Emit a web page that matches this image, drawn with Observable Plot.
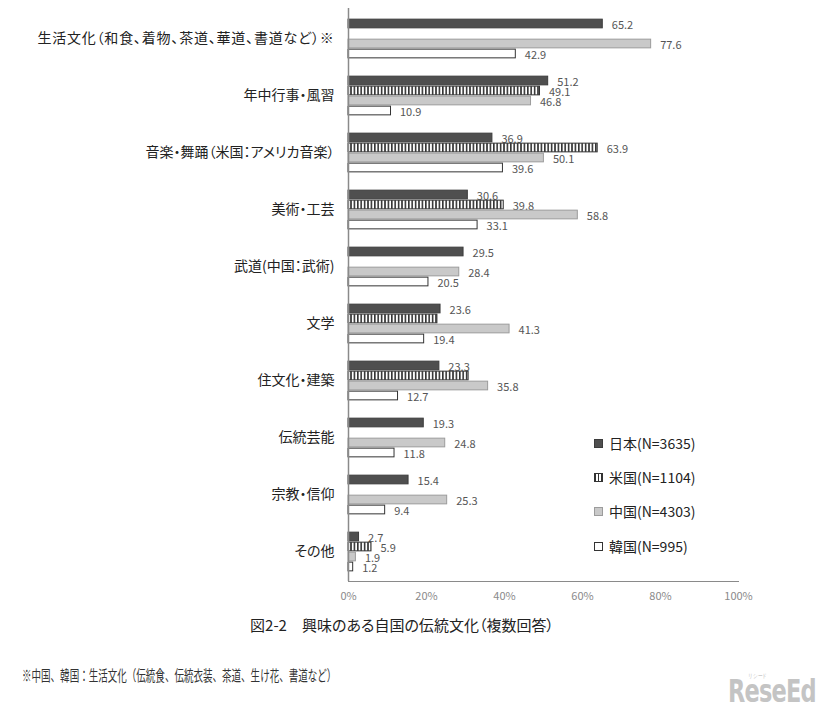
<!DOCTYPE html>
<html>
<head>
<meta charset="utf-8">
<script src="https://cdn.jsdelivr.net/npm/d3@7"></script>
<script src="https://cdn.jsdelivr.net/npm/@observablehq/plot@0.6"></script>
<style>
  html, body { margin: 0; padding: 0; background: #ffffff; }
  #wrap { position: relative; width: 826px; height: 712px; overflow: hidden; font-family: "Noto Sans CJK JP", "Noto Sans", sans-serif; }
  #legend { position: absolute; left: 594px; top: 432px; }
  .li { position: absolute; left: 0; height: 22px; display: flex; align-items: center; white-space: nowrap; font-size: 14px; color: #222; }
  .sw { width: 9px; height: 9px; margin-right: 6px; box-sizing: border-box; border: 1px solid #333; }
  #caption { position: absolute; left: 0; width: 804px; top: 614px; text-align: center; font-size: 15px; color: #222; white-space: nowrap; font-feature-settings: "palt"; }
  #note { position: absolute; left: 22px; top: 664px; font-size: 15px; color: #333; white-space: nowrap; transform: scaleX(0.635); transform-origin: left center; }
  #logo { position: absolute; left: 728px; top: 672px; width: 120px; font-family: "DejaVu Sans Condensed", "DejaVu Sans", sans-serif; font-weight: bold; font-size: 32px; color: #c4c4c4; letter-spacing: -1px; transform: scaleX(0.78); transform-origin: left center; }
  #logo small { position: absolute; left: 26px; top: 0px; font-size: 6px; letter-spacing: 0; font-weight: normal; color: #bbb; }
</style>
</head>
<body>
<div id="wrap">
  <div id="chart"></div>
  <div id="legend"></div>
  <div id="caption">図2-2　興味のある自国の伝統文化（複数回答）</div>
  <div id="note">※中国、韓国：生活文化（伝統食、伝統衣装、茶道、生け花、書道など）</div>
  <div id="logo"><small>リシード</small>ReseEd</div>
</div>
<script>
// ---- data ----
const categories = [
  "生活文化（和食、着物、茶道、華道、書道など）※",
  "年中行事・風習",
  "音楽・舞踊（米国：アメリカ音楽）",
  "美術・工芸",
  "武道(中国：武術)",
  "文学",
  "住文化・建築",
  "伝統芸能",
  "宗教・信仰",
  "その他"
];
const countries = ["日本", "米国", "中国", "韓国"];
const sampleSizes = [3635, 1104, 4303, 995];
const japan = [65.2, 51.2, 36.9, 30.6, 29.5, 23.6, 23.3, 19.3, 15.4, 2.7];
const usa   = [null, 49.1, 63.9, 39.8, null, 22.8, 30.8, null, null, 5.9];
const usaLabelShown = [false, true, true, true, false, false, false, false, false, true];
const china = [77.6, 46.8, 50.1, 58.8, 28.4, 41.3, 35.8, 24.8, 25.3, 1.9];
const korea = [42.9, 10.9, 39.6, 33.1, 20.5, 19.4, 12.7, 11.8, 9.4, 1.2];
const xTicks = [0, 20, 40, 60, 80, 100];

// ---- styles ----
const series = [
  {values: japan, labels: japan.map(v => v != null), fill: "#4f4f4f", stroke: "#3c3c3c"},
  {values: usa, labels: usaLabelShown, fill: "url(#vstripes)", stroke: "#333333"},
  {values: china, labels: china.map(v => v != null), fill: "#c9c9c9", stroke: "#9c9c9c"},
  {values: korea, labels: korea.map(v => v != null), fill: "#ffffff", stroke: "#333333"}
];

const W = 826, H = 610;
const marginTop = 8, marginBottom = 29, marginLeft = 348, marginRight = 88;
const band = (H - marginTop - marginBottom) / categories.length;
const slot = 10;
const groupTop = (band - slot * countries.length) / 2;

const marks = [];
series.forEach((s, i) => {
  const rows = categories.map((c, k) => ({cat: c, v: s.values[k], show: s.labels[k]})).filter(d => d.v != null);
  const top = groupTop + slot * i;
  marks.push(Plot.barX(rows, {
    x: "v", y: "cat",
    fill: s.fill, stroke: s.stroke, strokeWidth: 1,
    insetTop: top + 0.5, insetBottom: band - top - slot + 0.5
  }));
  marks.push(Plot.text(rows.filter(d => d.show), {
    x: "v", y: "cat", text: d => d.v.toFixed(1),
    dx: 9, dy: top + slot / 2 - band / 2 + 1,
    textAnchor: "start", fill: "#555", fontSize: 11
  }));
});
marks.push(Plot.ruleX([0], {stroke: "#8a8a8a", strokeWidth: 1.5}));
marks.push(Plot.text(categories, {
  x: () => 0, y: d => d, text: d => d,
  dx: -14, textAnchor: "end", fill: "#222", fontSize: 14
}));

const chart = Plot.plot({
  width: W, height: H,
  marginTop, marginBottom, marginLeft, marginRight,
  style: {fontFamily: '"Noto Sans CJK JP", "Noto Sans", sans-serif', fontSize: "11px", color: "#8a8a8a", background: "transparent"},
  x: {domain: [0, 100], ticks: xTicks, tickFormat: d => d + "%", tickSize: 0, tickPadding: 11, label: null, line: true},
  y: {domain: categories, padding: 0, axis: null},
  marks
});

// proportional punctuation for category labels; keep wide spacing around 、
chart.querySelectorAll("text").forEach(t => {
  if (categories.includes(t.textContent)) {
    t.style.fontFeatureSettings = '"palt"';
    if (t.textContent.includes("、")) t.style.letterSpacing = "0.8px";
  }
});

// stripe pattern for 米国
const ns = "http://www.w3.org/2000/svg";
const defs = document.createElementNS(ns, "defs");
defs.innerHTML = `<pattern id="vstripes" patternUnits="userSpaceOnUse" width="3.4" height="10">
  <rect width="3.4" height="10" fill="#ffffff"/><rect x="0" width="1.6" height="10" fill="#333333"/></pattern>`;
chart.insertBefore(defs, chart.firstChild);
document.getElementById("chart").appendChild(chart);

// legend
const legend = document.getElementById("legend");
const legendTops = [0, 34, 68, 103];
countries.forEach((c, i) => {
  const item = document.createElement("div");
  item.className = "li";
  item.style.top = legendTops[i] + "px";
  const sw = document.createElement("div");
  sw.className = "sw";
  const s = series[i];
  if (i === 1) {
    sw.style.background = "repeating-linear-gradient(90deg, #333 0 1.5px, #fff 1.5px 3px)";
  } else {
    sw.style.background = s.fill;
  }
  sw.style.borderColor = s.stroke;
  item.appendChild(sw);
  const t = document.createElement("span");
  t.textContent = `${c}(N=${sampleSizes[i]})`;
  item.appendChild(t);
  legend.appendChild(item);
});
</script>
</body>
</html>
